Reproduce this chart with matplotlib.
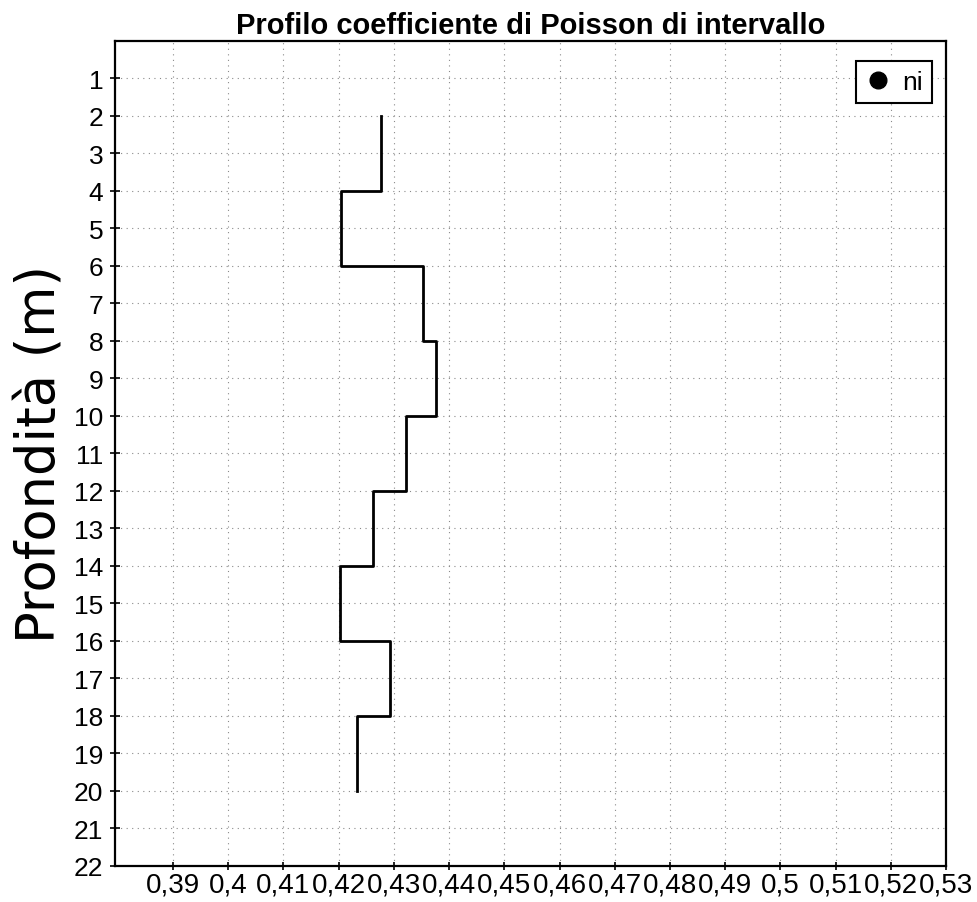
import numpy as np
import matplotlib
matplotlib.use("Agg")
import matplotlib.pyplot as plt
from matplotlib.lines import Line2D
from matplotlib.ticker import FuncFormatter

plt.rcParams['font.family'] = ['Liberation Sans', 'DejaVu Sans']

# layer boundaries (m) and Poisson ratio of each interval
depth_edges = [2, 4, 6, 8, 10, 12, 14, 16, 18, 20]
ni = [0.4277, 0.4205, 0.4353, 0.4376, 0.4322, 0.4263, 0.4203, 0.4293, 0.4233]

x_ticks = [0.39, 0.40, 0.41, 0.42, 0.43, 0.44, 0.45, 0.46, 0.47, 0.48, 0.49, 0.50, 0.51, 0.52, 0.53]
y_ticks = list(range(1, 23))

fig = plt.figure(figsize=(9.78, 9.03), dpi=100)
ax = fig.add_axes([0.1176, 0.0399, 0.8497, 0.9136])

# step profile: each value holds over its depth interval
ys = np.repeat(depth_edges, 2)[1:-1]
xs = np.repeat(ni, 2)
ax.plot(xs, ys, color="black", lw=2)

ax.set_xlim(0.3795, 0.53)
ax.set_ylim(22, 0)
ax.set_xticks(x_ticks)
ax.set_yticks(y_ticks)

def comma(v, pos):
    s = ("%.2f" % v).rstrip("0").rstrip(".")
    return s.replace(".", ",")

ax.xaxis.set_major_formatter(FuncFormatter(comma))
ax.tick_params(axis="x", labelsize=20, direction="inout", length=6, width=1.2, pad=1)
ax.tick_params(axis="y", labelsize=19, direction="inout", length=7, width=1.2, pad=5)

ax.grid(True, color="#8a8a8a", linestyle=(0, (1, 4)), lw=0.8)
for s in ax.spines.values():
    s.set_linewidth(1.6)
    s.set_color("black")

ax.set_title("Profilo coefficiente di Poisson di intervallo", fontsize=21,
             fontweight="bold", pad=6)
ax.set_ylabel("Profondità (m)", fontsize=38, family="DejaVu Sans", labelpad=6)

handle = Line2D([], [], marker="o", color="black", linestyle="none", markersize=12)
leg = ax.legend([handle], ["ni"], loc="upper right", bbox_to_anchor=(0.9832, 0.9758),
                borderaxespad=0, fancybox=False, fontsize=19, handlelength=1.0,
                handletextpad=0.4, borderpad=0.35, framealpha=1)
leg.get_frame().set_edgecolor("black")
leg.get_frame().set_linewidth(1.5)

fig.savefig("out.png", dpi=100)
